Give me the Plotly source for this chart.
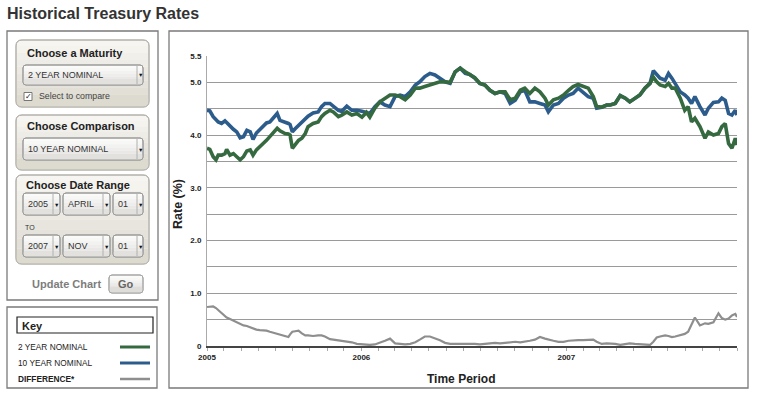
import plotly.graph_objects as go

W, H = 762, 397
FONT = "Liberation Sans, Arial, Helvetica, sans-serif"

# ---------------- data ----------------
dates = [
    "2005-04-01", "2005-04-06", "2005-04-12", "2005-04-17", "2005-04-21", "2005-04-27", "2005-05-03", "2005-05-06", "2005-05-12", "2005-05-18",
    "2005-05-24", "2005-05-30", "2005-06-05", "2005-06-11", "2005-06-17", "2005-06-22", "2005-06-28", "2005-07-04", "2005-07-10", "2005-07-16",
    "2005-07-22", "2005-07-28", "2005-08-04", "2005-08-09", "2005-08-18", "2005-08-24", "2005-08-27", "2005-08-31", "2005-09-05", "2005-09-11",
    "2005-09-17", "2005-09-23", "2005-09-28", "2005-10-07", "2005-10-16", "2005-10-22", "2005-10-28", "2005-11-06", "2005-11-12", "2005-11-21",
    "2005-11-27", "2005-12-06", "2005-12-15", "2005-12-24", "2006-01-02", "2006-01-10", "2006-01-16", "2006-01-25", "2006-02-03", "2006-02-12",
    "2006-02-21", "2006-03-02", "2006-03-11", "2006-03-20", "2006-03-29", "2006-04-07", "2006-04-15", "2006-04-24", "2006-05-03", "2006-05-12",
    "2006-05-21", "2006-05-30", "2006-06-08", "2006-06-17", "2006-06-26", "2006-07-05", "2006-07-13", "2006-07-22", "2006-07-31", "2006-08-09",
    "2006-08-18", "2006-08-27", "2006-09-05", "2006-09-14", "2006-09-23", "2006-10-02", "2006-10-11", "2006-10-19", "2006-10-28", "2006-11-06",
    "2006-11-15", "2006-11-24", "2006-11-30", "2006-12-09", "2006-12-18", "2006-12-27", "2007-01-05", "2007-01-13", "2007-01-22", "2007-01-31",
    "2007-02-09", "2007-02-18", "2007-02-24", "2007-03-05", "2007-03-14", "2007-03-20", "2007-03-29", "2007-04-07", "2007-04-16", "2007-04-24",
    "2007-05-03", "2007-05-12", "2007-05-21", "2007-05-30", "2007-06-05", "2007-06-11", "2007-06-17", "2007-06-26", "2007-07-02", "2007-07-08",
    "2007-07-14", "2007-07-23", "2007-07-31", "2007-08-06", "2007-08-12", "2007-08-18", "2007-08-27", "2007-09-05", "2007-09-11", "2007-09-20",
    "2007-09-29", "2007-10-05", "2007-10-11", "2007-10-17", "2007-10-23", "2007-10-29", "2007-11-01",
]

ten_year = [
    4.47, 4.46, 4.35, 4.28, 4.25, 4.22, 4.27, 4.24, 4.17, 4.11,
    4.06, 3.95, 3.97, 4.09, 4.06, 3.92, 4.04, 4.11, 4.16, 4.23,
    4.25, 4.32, 4.41, 4.28, 4.25, 4.22, 4.20, 4.06, 4.12, 4.18,
    4.25, 4.30, 4.36, 4.42, 4.44, 4.54, 4.60, 4.60, 4.54, 4.47,
    4.45, 4.55, 4.47, 4.47, 4.45, 4.43, 4.41, 4.54, 4.63, 4.57,
    4.54, 4.73, 4.76, 4.73, 4.82, 4.95, 5.01, 5.11, 5.17, 5.14,
    5.08, 5.01, 4.98, 5.20, 5.27, 5.17, 5.15, 5.08, 4.98, 4.95,
    4.85, 4.79, 4.82, 4.79, 4.60, 4.66, 4.82, 4.85, 4.63, 4.63,
    4.60, 4.57, 4.44, 4.57, 4.60, 4.70, 4.76, 4.79, 4.89, 4.82,
    4.73, 4.70, 4.51, 4.53, 4.57, 4.57, 4.60, 4.75, 4.70, 4.63,
    4.70, 4.76, 4.89, 4.98, 5.22, 5.14, 5.08, 5.04, 5.17, 5.08,
    4.98, 4.82, 4.76, 4.70, 4.60, 4.73, 4.54, 4.38, 4.51, 4.62,
    4.63, 4.70, 4.66, 4.41, 4.38, 4.47, 4.38,
]

two_year = [
    3.75, 3.73, 3.59, 3.53, 3.62, 3.62, 3.65, 3.73, 3.62, 3.65,
    3.59, 3.53, 3.59, 3.70, 3.72, 3.62, 3.72, 3.77, 3.84, 3.90,
    3.97, 4.03, 4.13, 4.08, 4.03, 4.02, 4.00, 3.75, 3.81, 3.90,
    3.94, 4.03, 4.16, 4.22, 4.25, 4.35, 4.41, 4.47, 4.44, 4.35,
    4.38, 4.44, 4.38, 4.41, 4.34, 4.43, 4.34, 4.51, 4.63, 4.70,
    4.76, 4.76, 4.73, 4.67, 4.76, 4.89, 4.89, 4.92, 4.95, 4.98,
    5.01, 5.01, 5.00, 5.20, 5.27, 5.20, 5.15, 5.09, 4.98, 4.95,
    4.85, 4.79, 4.82, 4.82, 4.67, 4.70, 4.85, 4.89, 4.79, 4.89,
    4.82, 4.70, 4.57, 4.67, 4.70, 4.76, 4.85, 4.92, 4.96, 4.92,
    4.89, 4.73, 4.54, 4.53, 4.57, 4.57, 4.60, 4.75, 4.70, 4.63,
    4.70, 4.76, 4.89, 4.98, 5.10, 5.01, 4.95, 4.92, 4.98, 4.89,
    4.89, 4.70, 4.47, 4.54, 4.25, 4.32, 4.16, 3.94, 4.06, 4.00,
    4.03, 4.16, 4.22, 3.84, 3.75, 3.94, 3.81,
]

difference = [
    0.74, 0.75, 0.75, 0.72, 0.68, 0.62, 0.56, 0.54, 0.51, 0.48,
    0.44, 0.41, 0.39, 0.38, 0.35, 0.33, 0.31, 0.30, 0.30, 0.29,
    0.27, 0.25, 0.23, 0.21, 0.18, 0.17, 0.22, 0.27, 0.28, 0.29,
    0.24, 0.20, 0.20, 0.19, 0.20, 0.20, 0.18, 0.13, 0.12, 0.11,
    0.10, 0.09, 0.07, 0.04, 0.03, 0.02, 0.02, 0.03, 0.06, 0.10,
    0.14, 0.05, 0.04, 0.03, 0.04, 0.07, 0.12, 0.18, 0.18, 0.15,
    0.11, 0.06, 0.04, 0.04, 0.04, 0.05, 0.05, 0.04, 0.03, 0.04,
    0.06, 0.06, 0.05, 0.06, 0.08, 0.08, 0.07, 0.08, 0.10, 0.12,
    0.17, 0.14, 0.12, 0.10, 0.08, 0.08, 0.10, 0.11, 0.11, 0.11,
    0.12, 0.12, 0.08, 0.04, 0.05, 0.05, 0.04, 0.02, 0.03, 0.05,
    0.04, 0.03, 0.03, 0.02, 0.08, 0.16, 0.18, 0.20, 0.19, 0.17,
    0.18, 0.20, 0.23, 0.27, 0.40, 0.54, 0.39, 0.43, 0.42, 0.45,
    0.62, 0.53, 0.50, 0.52, 0.58, 0.61, 0.55,
]

y_tick_vals = [0, 0.5, 1.0, 1.5, 2.0, 2.5, 3.0, 3.5, 4.0, 4.5, 5.0, 5.5]
y_tick_text = ["0", "", "1.0", "", "2.0", "", "3.0", "", "4.0", "", "5.0", "5.5"]
x_tick_vals = ["2005-04-01", "2006-01-01", "2007-01-01"]
x_tick_text = ["2005", "2006", "2007"]
x_range = ["2005-04-01", "2007-11-01"]

series_names = ["2 YEAR NOMINAL", "10 YEAR NOMINAL", "DIFFERENCE*"]
GREEN, BLUE, GRAY = "#35693f", "#2c5c8c", "#8e8e8e"


def X(p):
    return p / W


def Y(p):
    return 1 - p / H


def rgb(c):
    return "rgb(%d,%d,%d)" % tuple(int(v) for v in c)


# ---------------- figure ----------------
fig = go.Figure()
fig.add_trace(go.Scatter(x=dates, y=difference, mode="lines", line=dict(color=GRAY, width=2.2),
                         name=series_names[2]))
fig.add_trace(go.Scatter(x=dates, y=ten_year, mode="lines", line=dict(color=BLUE, width=3.6),
                         name=series_names[1]))
fig.add_trace(go.Scatter(x=dates, y=two_year, mode="lines", line=dict(color=GREEN, width=3.6),
                         name=series_names[0]))

shapes = []
ann = []


def rect(x0, y0, x1, y1, color, lw, fill="rgba(0,0,0,0)"):
    shapes.append(dict(type="rect", xref="paper", yref="paper", x0=X(x0), x1=X(x1), y0=Y(y1), y1=Y(y0),
                       line=dict(color=color, width=lw), fillcolor=fill, layer="below"))


def rrect(x0, y0, x1, y1, r, color, lw, fill):
    p = (f"M {X(x0 + r)},{Y(y0)} L {X(x1 - r)},{Y(y0)} Q {X(x1)},{Y(y0)} {X(x1)},{Y(y0 + r)} "
         f"L {X(x1)},{Y(y1 - r)} Q {X(x1)},{Y(y1)} {X(x1 - r)},{Y(y1)} L {X(x0 + r)},{Y(y1)} "
         f"Q {X(x0)},{Y(y1)} {X(x0)},{Y(y1 - r)} L {X(x0)},{Y(y0 + r)} Q {X(x0)},{Y(y0)} {X(x0 + r)},{Y(y0)} Z")
    shapes.append(dict(type="path", xref="paper", yref="paper", path=p,
                       line=dict(color=color, width=lw), fillcolor=fill, layer="below"))


def grad_box(x0, y0, x1, y1, r, top, bottom, border, n=8):
    rrect(x0, y0, x1, y1, r, border, 1, rgb(top))
    h = (y1 - r - (y0 + r)) / n
    for i in range(n):
        t = (i + 0.5) / n
        c = tuple(top[k] + (bottom[k] - top[k]) * t for k in range(3))
        shapes.append(dict(type="rect", xref="paper", yref="paper",
                           x0=X(x0 + 1), x1=X(x1 - 1), y0=Y(y0 + r + (i + 1) * h), y1=Y(y0 + r + i * h),
                           line=dict(width=0), fillcolor=rgb(c), layer="below"))
    rrect(x0, y1 - 2 * r, x1, y1, r, "rgba(0,0,0,0)", 0, rgb(bottom))
    rrect(x0, y0, x1, y1, r, border, 1, "rgba(0,0,0,0)")


def line(x0, y0, x1, y1, color, lw):
    shapes.append(dict(type="line", xref="paper", yref="paper", x0=X(x0), x1=X(x1), y0=Y(y0), y1=Y(y1),
                       line=dict(color=color, width=lw), layer="above"))


def text(x, y, s, size, color="#222", bold=False, anchor="left", angle=0):
    ann.append(dict(x=X(x), y=Y(y), xref="paper", yref="paper", text=f"<b>{s}</b>" if bold else s,
                    showarrow=False, xanchor=anchor, yanchor="middle", textangle=angle, borderpad=0,
                    font=dict(family=FONT, size=size, color=color)))


def dropdown(x0, y0, x1, y1, label, sep):
    grad_box(x0, y0, x1, y1, 3, (250, 250, 249), (226, 225, 222), "#9a9a9a", n=5)
    line(sep, y0 + 1, sep, y1 - 1, "#b0b0b0", 1)
    text(x0 + 4, (y0 + y1) / 2, label, 9, "#333")
    text((sep + x1) / 2, (y0 + y1) / 2 + 0.5, "▼", 5.5, "#111", anchor="center")


# title
text(6, 13, "Historical Treasury Rates", 16, "#333", bold=True)

# outer panels
rect(7, 31, 158, 300, "#7a7a7a", 1.3)
rect(7, 307, 157, 388, "#7a7a7a", 1.3)
rect(169, 31, 748, 388, "#7a7a7a", 1.3)

BEIGE_T, BEIGE_B = (246, 245, 241), (221, 218, 208)
# maturity box
grad_box(16, 40, 149, 107, 6, BEIGE_T, BEIGE_B, "#b3b1aa")
text(26, 53, "Choose a Maturity", 11, "#222", bold=True)
dropdown(23, 65, 143, 85, "2 YEAR NOMINAL", 137)
rect(24, 92.5, 32, 100.5, "#777", 1, "#ffffff")
text(28, 96, "✓", 8, "#222", anchor="center")
text(38, 96.5, "Select to compare", 8.8, "#444")

# comparison box
grad_box(16, 115, 149, 170, 6, BEIGE_T, BEIGE_B, "#b3b1aa")
text(26, 126, "Choose Comparison", 11, "#222", bold=True)
dropdown(23, 138, 143, 160, "10 YEAR NOMINAL", 137)

# date range box
grad_box(16, 175, 149, 264, 6, BEIGE_T, BEIGE_B, "#b3b1aa")
text(25, 185, "Choose Date Range", 11, "#222", bold=True)
dropdown(23, 193, 60, 215, "2005", 53)
dropdown(63, 193, 110, 215, "APRIL", 103)
dropdown(113, 193, 143, 215, "01", 137)
text(24, 227, "TO", 7, "#333")
dropdown(23, 235, 60, 257, "2007", 53)
dropdown(63, 235, 110, 257, "NOV", 103)
dropdown(113, 235, 143, 257, "01", 137)

text(66, 283.5, "Update Chart", 11, "#7d7d7d", bold=True, anchor="center")
grad_box(109, 275, 143, 293, 3, (250, 250, 249), (222, 221, 218), "#a5a5a5", n=5)
text(126, 284, "Go", 11, "#666", bold=True, anchor="center")

# key
rect(17, 317, 153, 333, "#222", 1.2)
text(21, 325.5, "Key", 11, "#222", bold=True)
key_y = [347, 363, 379]
key_col = [GREEN, BLUE, GRAY]
for i in range(3):
    text(17, key_y[i], series_names[i], 8.3, "#222", bold=(i == 2))
    line(120, key_y[i], 150, key_y[i], key_col[i], 3 if i < 2 else 2.5)

# axis titles
text(178, 204, "Rate (%)", 12.5, "#222", bold=True, anchor="center", angle=-90)
text(461, 379, "Time Period", 12, "#222", bold=True, anchor="center")

fig.update_layout(
    width=W, height=H, margin=dict(l=0, r=0, t=0, b=0, autoexpand=False),
    paper_bgcolor="white", plot_bgcolor="white", showlegend=False,
    shapes=shapes, annotations=ann,
    xaxis=dict(domain=[X(207), X(737)], type="date", range=x_range, automargin=False,
               tickvals=x_tick_vals, ticktext=[f"<b>{t}</b>" for t in x_tick_text],
               tickfont=dict(family=FONT, size=8, color="#222"),
               showgrid=False, zeroline=False, showline=True, linecolor="#444", linewidth=1.5,
               ticks="outside", ticklen=3, tickcolor="rgba(0,0,0,0)",
               minor=dict(ticks="outside", ticklen=3, tickcolor="#aaa", dtick="M1", tick0="2005-04-01", showgrid=False)),
    yaxis=dict(domain=[Y(346), Y(56)], range=[0, 5.5], automargin=False,
               tickvals=y_tick_vals, ticktext=[f"<b>{t}</b>" if t else "" for t in y_tick_text],
               tickfont=dict(family=FONT, size=8, color="#222"),
               showgrid=True, gridcolor="#9a9a9a", gridwidth=1, zeroline=False,
               showline=True, linecolor="#aaa", linewidth=1,
               ticks="outside", ticklen=3, tickcolor="rgba(0,0,0,0)"),
)

fig.write_html("out.html", config={"displayModeBar": False},
               post_script="document.body.style.margin='0';document.body.style.padding='0';"
                           "document.documentElement.style.overflow='hidden';")
